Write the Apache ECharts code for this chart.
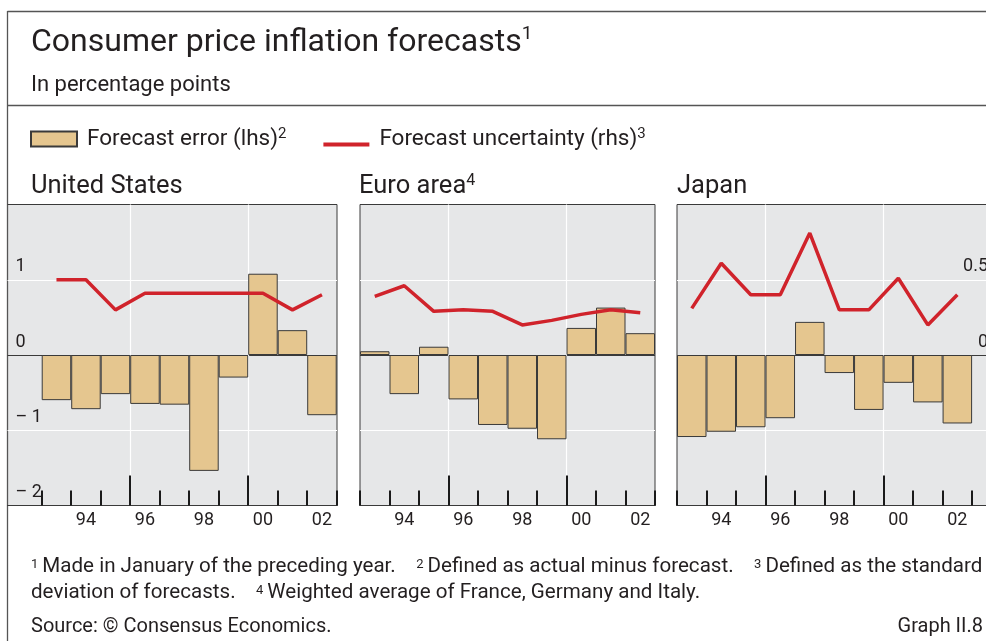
<!DOCTYPE html>
<html>
<head>
<meta charset="utf-8">
<script src="https://cdn.jsdelivr.net/npm/echarts@6/dist/echarts.min.js"></script>
<style>
  html, body { margin: 0; padding: 0; background: #fff; }
  #chart { width: 986px; height: 641px; }
</style>
</head>
<body>
<div id="chart"></div>
<script>
// data (forecast error in pp, uncertainty = std dev of forecasts)
const years = [1993, 1994, 1995, 1996, 1997, 1998, 1999, 2000, 2001, 2002]
const labelYears = [1994, 1996, 1998, 2000, 2002]
const majorTicks = [1995.5, 1999.5]

const usError = [-0.6, -0.72, -0.52, -0.65, -0.66, -1.54, -0.3, 1.08, 0.33, -0.8]
const usUncertainty = [0.5, 0.5, 0.3, 0.41, 0.41, 0.41, 0.41, 0.41, 0.3, 0.4]

const euroError = [0.05, -0.52, 0.11, -0.59, -0.93, -0.98, -1.12, 0.36, 0.63, 0.29]
const euroUncertainty = [0.39, 0.46, 0.29, 0.3, 0.29, 0.2, 0.23, 0.27, 0.3, 0.28]

const japanError = [-1.09, -1.02, -0.96, -0.84, 0.44, -0.24, -0.73, -0.37, -0.63, -0.91]
const japanUncertainty = [0.31, 0.61, 0.4, 0.4, 0.81, 0.3, 0.3, 0.51, 0.2, 0.4]

const ERROR_NAME = "Forecast error (lhs)"
const UNC_NAME = "Forecast uncertainty (rhs)"

const TEXT = "#231f20"
const FONT = "Roboto"
const BAR = "#e5c68f"
const EDGE = "#3a3a3a"
const RED = "#d0232b"

const panels = [
  { title: "United States", note: "", error: usError, unc: usUncertainty,
    left: 7.5, width: 329.5, titleLeft: 31, xMin: 1991.34, xMax: 2002.51, lhs: true, rhs: false },
  { title: "Euro area", note: "4", error: euroError, unc: euroUncertainty,
    left: 360, width: 295, titleLeft: 359, xMin: 1992.5, xMax: 2002.5, lhs: false, rhs: false },
  { title: "Japan", note: "", error: japanError, unc: japanUncertainty,
    left: 677, width: 319, titleLeft: 677, xMin: 1992.5, xMax: 2003.31, lhs: false, rhs: true }
]

const boundaries = years.map(y => y - 0.5).concat(years[years.length - 1] + 0.5)

const fmtSigned = v => (v < 0 ? "\u2013 " + Math.abs(v) : String(v))

const grid = [], xAxis = [], yAxis = [], series = []
panels.forEach((p, i) => {
  grid.push({
    left: p.left, width: p.width, top: 204.5, height: 301,
    outerBoundsMode: "none", containLabel: false,
    show: true, backgroundColor: "#e6e7e8", borderColor: EDGE, borderWidth: 1
  })
  // main axis: short ticks on every year boundary, labels every other year
  xAxis.push({
    type: "value", gridIndex: i, position: "bottom", min: p.xMin, max: p.xMax,
    axisLine: { show: true, onZero: false, lineStyle: { color: EDGE, width: 1 } },
    splitLine: { show: false },
    axisTick: { show: true, inside: true, length: 15, customValues: boundaries,
      lineStyle: { color: "#1a1a1a", width: 2 } },
    axisLabel: { show: true, customValues: labelYears, margin: 6,
      formatter: v => String(v).slice(2), color: TEXT, fontFamily: FONT, fontSize: 18 }
  })
  // second axis: long ticks + white vertical grid lines
  xAxis.push({
    type: "value", gridIndex: i, position: "bottom", min: p.xMin, max: p.xMax,
    axisLine: { show: true, onZero: false, lineStyle: { color: EDGE, width: 1 } },
    axisLabel: { show: false },
    axisTick: { show: true, inside: true, length: 30, customValues: majorTicks,
      lineStyle: { color: "#1a1a1a", width: 2 } },
    splitLine: { show: true, lineStyle: { color: "#ffffff", width: 1.2 } }
  })
  yAxis.push({
    type: "value", gridIndex: i, position: "left", min: -2, max: 2, interval: 1,
    axisLine: { show: false }, axisTick: { show: false },
    splitLine: { show: true, lineStyle: { color: [EDGE, "#ffffff", EDGE, "#ffffff", EDGE], width: 1.2 } },
    axisLabel: {
      show: p.lhs, inside: true, margin: 8, verticalAlign: "bottom", padding: [0, 0, 4, 0],
      formatter: v => (v >= 2 ? "" : fmtSigned(v)),
      color: TEXT, fontFamily: FONT, fontSize: 18
    }
  })
  yAxis.push({
    type: "value", gridIndex: i, position: "right", min: -1, max: 1, interval: 0.5,
    axisLine: { show: false }, axisTick: { show: false }, splitLine: { show: false },
    axisLabel: {
      show: p.rhs, inside: true, margin: 8, verticalAlign: "bottom", padding: [0, 0, 4, 0],
      formatter: v => (v < 0 || v >= 1 ? "" : String(v)),
      color: TEXT, fontFamily: FONT, fontSize: 18
    }
  })
  series.push({
    name: ERROR_NAME, type: "bar", xAxisIndex: i * 2, yAxisIndex: i * 2,
    barWidth: "100%",
    data: years.map((y, k) => [y, p.error[k]]),
    itemStyle: { color: BAR, borderColor: EDGE, borderWidth: 1 }
  })
  series.push({
    name: UNC_NAME, type: "line", xAxisIndex: i * 2, yAxisIndex: i * 2 + 1,
    data: years.map((y, k) => [y, p.unc[k]]),
    symbol: "none", z: 5,
    lineStyle: { color: RED, width: 3.5 },
    itemStyle: { color: RED }
  })
})

const sup = { fontSize: 14, lineHeight: 14, verticalAlign: "top", fontFamily: FONT, color: TEXT }
const legendNotes = { [ERROR_NAME]: "2", [UNC_NAME]: "3" }

const titles = [
  { text: "Consumer price inflation forecasts{sup|1}", left: 31, top: 25,
    textStyle: { fontSize: 32, lineHeight: 36, fontWeight: "normal", color: TEXT, fontFamily: FONT,
      rich: { sup: Object.assign({}, sup, { fontSize: 19, lineHeight: 19 }) } } },
  { text: "In percentage points", left: 31, top: 72,
    textStyle: { fontSize: 22, lineHeight: 26, fontWeight: "normal", color: TEXT, fontFamily: FONT } },
  ...panels.map(p => ({
    text: p.title + (p.note ? "{sup|" + p.note + "}" : ""), left: p.titleLeft, top: 173,
    textStyle: { fontSize: 25.5, lineHeight: 28, fontWeight: "normal", color: TEXT, fontFamily: FONT,
      rich: { sup: Object.assign({}, sup, { fontSize: 16, lineHeight: 16 }) } }
  })),
  { text: "{sup|1}Made in January of the preceding year.    {sup|2}Defined as actual minus forecast.    {sup|3}Defined as the standard\n" +
      "deviation of forecasts.    {sup|4}Weighted average of France, Germany and Italy.",
    left: 31, top: 554,
    textStyle: { fontSize: 20.6, lineHeight: 26, fontWeight: "normal", color: TEXT, fontFamily: FONT,
      rich: { sup: Object.assign({}, sup, { fontSize: 13, lineHeight: 13, padding: [4, 4, 0, 0] }) } } },
  { text: "Source: \u00a9 Consensus Economics.", left: 31, top: 614,
    textStyle: { fontSize: 20, lineHeight: 26, fontWeight: "normal", color: TEXT, fontFamily: FONT } },
  { text: "Graph II.8", right: 3, top: 614,
    textStyle: { fontSize: 20, lineHeight: 26, fontWeight: "normal", color: TEXT, fontFamily: FONT } }
].map(t => Object.assign({ padding: 0, itemGap: 0 }, t))

const frame = { stroke: "#555", lineWidth: 1.3 }

const option = {
  animation: false,
  backgroundColor: "#ffffff",
  title: titles,
  legend: {
    left: 30, top: 127, padding: 0, itemGap: 37, itemWidth: 46, itemHeight: 15,
    selectedMode: false,
    data: [
      { name: ERROR_NAME, icon: "rect" },
      { name: UNC_NAME, icon: "path://M0,0M0,11H46V15H0Z" }
    ],
    formatter: name => name + "{sup|" + legendNotes[name] + "}",
    textStyle: { fontSize: 22.5, lineHeight: 24, color: TEXT, fontFamily: FONT, padding: [0, 0, 0, 5],
      rich: { sup: Object.assign({}, sup, { fontSize: 15, lineHeight: 15 }) } }
  },
  grid, xAxis, yAxis, series,
  graphic: [
    { type: "line", shape: { x1: 7.5, y1: 11.5, x2: 986, y2: 11.5 }, style: frame, silent: true },
    { type: "line", shape: { x1: 7.5, y1: 105.5, x2: 986, y2: 105.5 }, style: frame, silent: true },
    { type: "line", shape: { x1: 7.5, y1: 11, x2: 7.5, y2: 641 }, style: frame, silent: true }
  ]
}

const chart = echarts.init(document.getElementById("chart"), null, { renderer: "canvas" })
chart.setOption(option)
</script>
</body>
</html>
